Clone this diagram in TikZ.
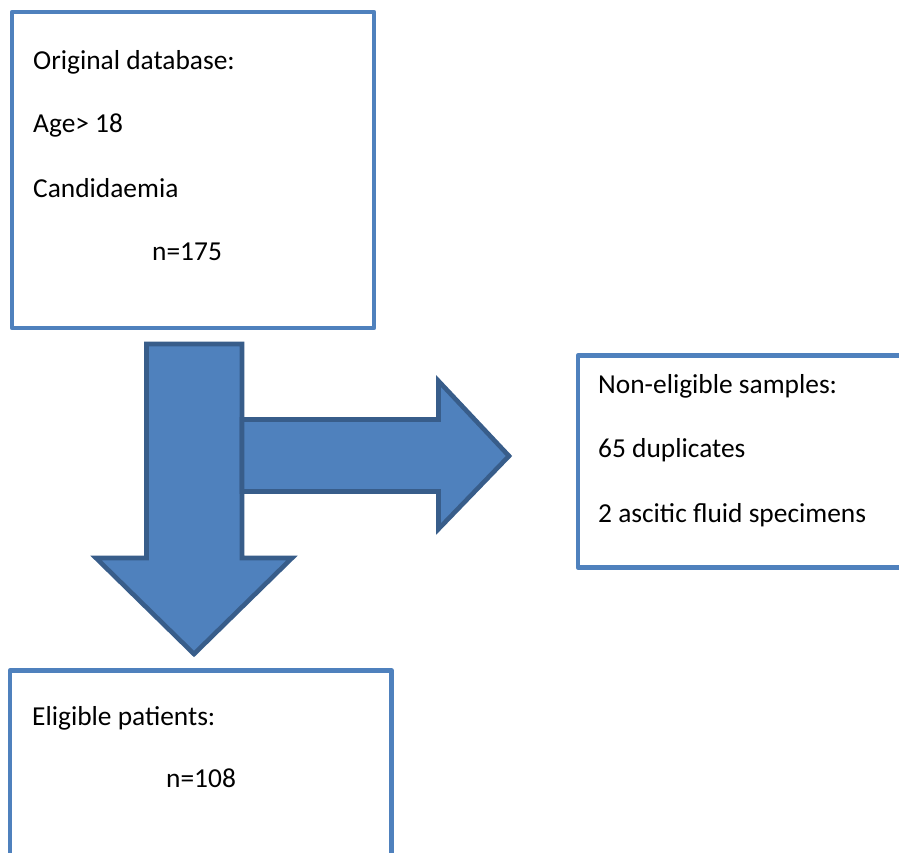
\documentclass[tikz,border=0pt]{standalone}
\usepackage{fontspec}
\setmainfont{Carlito}
\definecolor{boxblue}{HTML}{4F81BD}
\definecolor{arrowline}{HTML}{385D8A}
\begin{document}
\begin{tikzpicture}[x=1pt,y=-1pt,
  boxline/.style={draw=boxblue,line width=4.6pt,line join=round},
  bigarrow/.style={fill=boxblue,draw=arrowline,line width=4.6pt,line join=miter},
  txt/.style={anchor=base west,inner sep=0pt,font=\fontsize{27.4}{31}\selectfont}]
\clip (0,0) rectangle (899,853);
\fill[white] (0,0) rectangle (899,853);
% boxes
\draw[boxline] (12,12) rectangle (374,328);
\draw[boxline] (578,355.5) rectangle (920,567.5);
\draw[boxline] (10,670.5) rectangle (391.5,880);
% down arrow
\draw[bigarrow] (146.5,344) -- (242,344) -- (242,558) -- (292,558) -- (194,654) -- (96,558) -- (146.5,558) -- cycle;
% right arrow
\draw[bigarrow] (242,419.5) -- (438.5,419.5) -- (438.5,381) -- (509,456) -- (438.5,529) -- (438.5,491.5) -- (242,491.5) -- cycle;
% texts
\node[txt] (t1) at (33,70) {Original database:};
\node[txt] (t2) at (33,133) {Age> 18};
\node[txt] (t3) at (33,197) {Candidaemia};
\node[txt] (t4) at (152,260) {n=175};
\node[txt] (t5) at (598,393) {Non-eligible samples:};
\node[txt] (t6) at (598,457) {65 duplicates};
\node[txt] (t7) at (598,522) {2 ascitic fluid specimens};
\node[txt] (t8) at (32,725) {Eligible patients:};
\node[txt] (t9) at (166,787) {n=108};
\end{tikzpicture}
\end{document}
